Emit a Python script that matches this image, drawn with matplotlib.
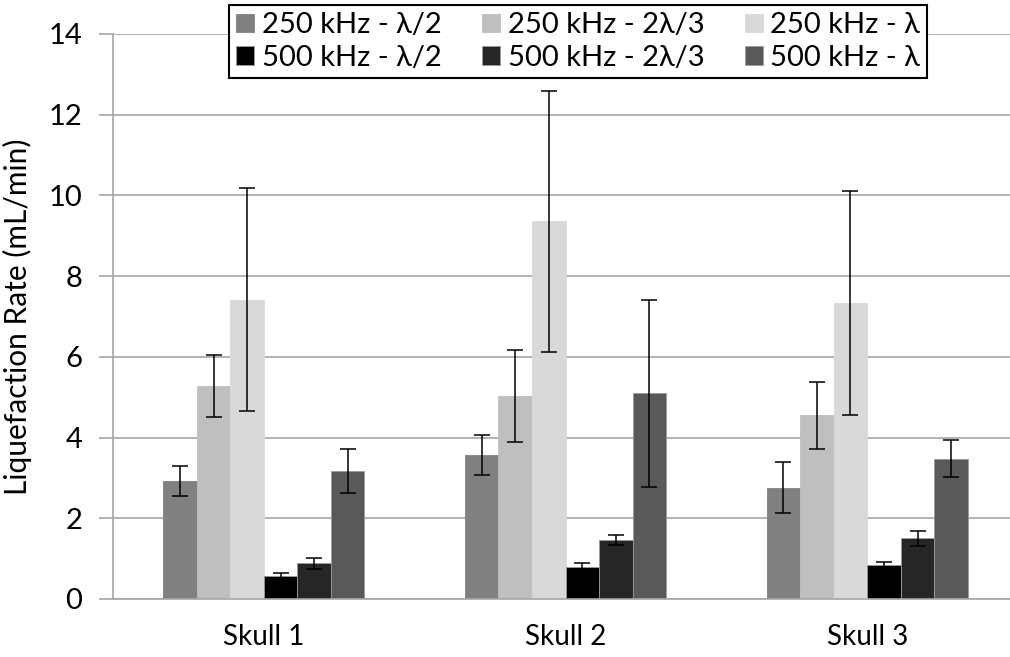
import matplotlib
matplotlib.use("Agg")
import matplotlib.pyplot as plt
import numpy as np

categories = ["Skull 1", "Skull 2", "Skull 3"]
series_labels = ["250 kHz - λ/2", "250 kHz - 2λ/3", "250 kHz - λ",
                 "500 kHz - λ/2", "500 kHz - 2λ/3", "500 kHz - λ"]
series_colors = ["#808080", "#bfbfbf", "#d9d9d9", "#000000", "#262626", "#595959"]

s250_half = [2.93, 3.57, 2.76]
s250_twothird = [5.28, 5.02, 4.55]
s250_full = [7.42, 9.36, 7.33]
s500_half = [0.58, 0.80, 0.83]
s500_twothird = [0.88, 1.46, 1.50]
s500_full = [3.17, 5.10, 3.48]

e250_half = [0.37, 0.49, 0.64]
e250_twothird = [0.76, 1.14, 0.83]
e250_full = [2.77, 3.23, 2.77]
e500_half = [0.06, 0.08, 0.09]
e500_twothird = [0.13, 0.13, 0.18]
e500_full = [0.55, 2.32, 0.45]

values = [s250_half, s250_twothird, s250_full, s500_half, s500_twothird, s500_full]
errors = [e250_half, e250_twothird, e250_full, e500_half, e500_twothird, e500_full]

FONT = ["Lato", "DejaVu Sans"]
plt.rcParams["font.family"] = FONT

fig = plt.figure(figsize=(10.10, 6.57), dpi=100)
ax = fig.add_axes([0.1119, 0.0883, 0.8961, 0.860])

x = np.arange(len(categories))
n = len(values)
group_w = 0.667
bw = group_w / n
handles = []
for i, (vals, errs, col, lab) in enumerate(zip(values, errors, series_colors, series_labels)):
    pos = x - group_w / 2 + bw * (i + 0.5)
    b = ax.bar(pos, vals, width=bw, color=col, label=lab, zorder=2,
               edgecolor="#9a9a9a" if i >= 3 else col, linewidth=0.6)
    ax.errorbar(pos, vals, yerr=errs, fmt="none", ecolor="black", elinewidth=1.1,
                capsize=6, capthick=1.1, zorder=3)
    handles.append(b)

ax.set_xlim(-0.5, 2.5)
ax.set_ylim(0, 14)
ax.set_yticks(np.arange(0, 15, 2))
ax.set_xticks(x)
ax.set_xticklabels(categories)
ax.yaxis.grid(True, color="#a6a6a6", linewidth=1.2, zorder=0)
ax.set_axisbelow(True)
for s in ["top", "right"]:
    ax.spines[s].set_visible(False)
ax.spines["left"].set_color("#a6a6a6")
ax.spines["left"].set_linewidth(1.2)
ax.spines["bottom"].set_color("#a6a6a6")
ax.spines["bottom"].set_linewidth(1.2)
ax.tick_params(axis="y", direction="out", length=10, width=1.2, color="#a6a6a6",
               labelsize=21, pad=12)
ax.tick_params(axis="x", length=0, labelsize=20, pad=18)
ax.set_ylabel("Liquefaction Rate (mL/min)", fontsize=21.5, labelpad=12)

# legend filled row-major: row 1 = 250 kHz, row 2 = 500 kHz
order = [0, 3, 1, 4, 2, 5]
leg = ax.legend(handles=[handles[k] for k in order],
                labels=[series_labels[k] for k in order], ncol=3, loc="upper left",
                bbox_to_anchor=(229 / 1010, 652 / 657), bbox_transform=fig.transFigure,
                fontsize=21, frameon=True, fancybox=False, framealpha=1,
                edgecolor="black", handlelength=0.62, handleheight=0.62,
                handletextpad=0.25, columnspacing=1.4, labelspacing=0.22,
                borderpad=0.25, borderaxespad=0)
leg.get_frame().set_linewidth(1.5)
leg.set_zorder(5)

fig.savefig("out.png", dpi=100)
